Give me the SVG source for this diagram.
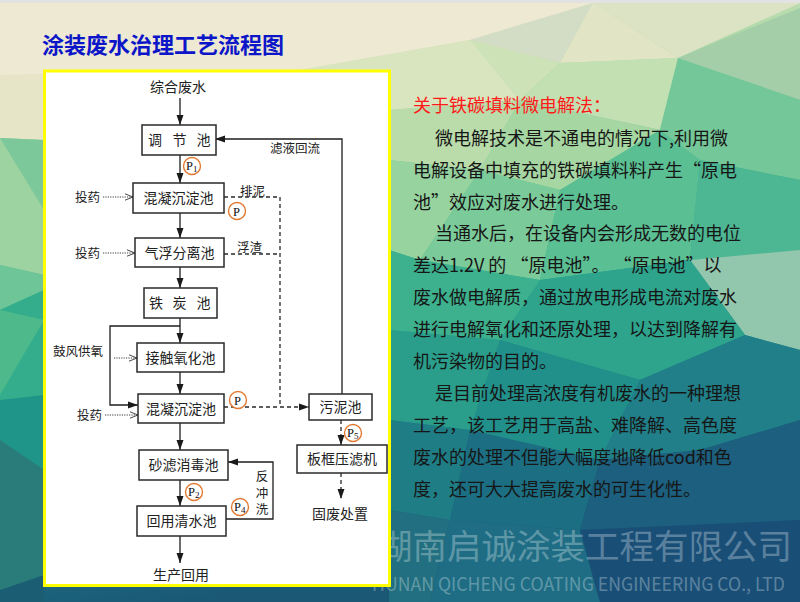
<svg xmlns="http://www.w3.org/2000/svg" width="800" height="602" viewBox="0 0 800 602">
<defs>
<linearGradient id="bg" x1="0" y1="0" x2="0.25" y2="1">
<stop offset="0" stop-color="#eee9d2"/>
<stop offset="0.16" stop-color="#e4e5c6"/>
<stop offset="0.28" stop-color="#a9d8a6"/>
<stop offset="0.45" stop-color="#52bb92"/>
<stop offset="0.62" stop-color="#28a08b"/>
<stop offset="0.78" stop-color="#1f7b86"/>
<stop offset="1" stop-color="#1a5876"/>
</linearGradient>
<marker id="ah" markerUnits="userSpaceOnUse" markerWidth="10" markerHeight="8" refX="10" refY="4" orient="auto">
<path d="M0,0.5 L10,4 L0,7.5 z" fill="#1a1a1a"/>
</marker>
<marker id="oh" markerUnits="userSpaceOnUse" markerWidth="9" markerHeight="8" refX="8.5" refY="4" orient="auto">
<path d="M0.5,0.8 L8.5,4 L0.5,7.2" fill="none" stroke="#333" stroke-width="0.9"/>
</marker>
</defs>
<style>
.box{fill:#fff;stroke:#2a2a2a;stroke-width:1.5}
.lbl{font-family:"Noto Sans CJK SC","Noto Sans",sans-serif;font-size:14px;fill:#222;text-anchor:middle}
.sm{font-family:"Noto Sans CJK SC","Noto Sans",sans-serif;font-size:12.5px;fill:#222}
.ln{fill:none;stroke:#1e1e1e;stroke-width:1.3}
.ds{fill:none;stroke:#2a2a2a;stroke-width:1.3;stroke-dasharray:4 3}
.dt{fill:none;stroke:#3a3a3a;stroke-width:1;stroke-dasharray:1.2 1.2}
.pc{fill:#fff;stroke:#e27a33;stroke-width:1.4}
.pt{font-family:"Liberation Serif",serif;font-size:12.5px;fill:#111}
.body{font-family:"Noto Sans CJK SC","Noto Sans",sans-serif;font-size:18px;fill:#161616}
.wm{font-family:"Noto Sans CJK SC","Noto Sans",sans-serif;fill:#ffffff;fill-opacity:0.3}
</style>
<g id="background">
<rect x="0" y="0" width="800" height="602" fill="url(#bg)"/>
<rect x="0" y="0" width="800" height="3" fill="#e2e2e2"/>
<polygon points="0,3 593,3 470,40 300,70 0,75" fill="#eee9d3"/>
<polygon points="470,40 593,3 560,63" fill="#d3dcc5"/>
<polygon points="593,3 678,58 560,63" fill="#e2e5c5"/>
<polygon points="593,3 800,3 678,58" fill="#dce2c4"/>
<polygon points="678,58 800,8 800,100" fill="#a4cea8"/>
<polygon points="300,70 470,40 520,100 389,110" fill="#d9e5bf"/>
<polygon points="470,40 560,63 520,100" fill="#cde2b7"/>
<polygon points="520,100 560,63 678,58 660,130" fill="#c2e0b2"/>
<polygon points="389,110 520,100 480,170 389,160" fill="#b9dcaa"/>
<polygon points="520,100 660,130 560,190 480,170" fill="#a6d6a2"/>
<polygon points="678,58 800,100 800,180 700,160 660,130" fill="#74c799"/>
<polygon points="389,160 480,170 420,260 389,250" fill="#97d39f"/>
<polygon points="480,170 560,190 540,280 420,260" fill="#7bcb9a"/>
<polygon points="560,190 660,130 700,160 690,260 540,280" fill="#5bbf94"/>
<polygon points="700,160 800,180 800,255 690,260" fill="#4db692"/>
<polygon points="690,260 800,250 800,350 745,335" fill="#92c6ad"/>
<polygon points="389,250 420,260 540,280 500,340 389,330" fill="#3db18e"/>
<polygon points="540,280 690,260 745,335 640,380 500,340" fill="#2ea48d"/>
<polygon points="389,330 500,340 470,430 389,420" fill="#2a9e8b"/>
<polygon points="500,340 640,380 600,460 470,430" fill="#22908a"/>
<polygon points="640,380 745,335 800,350 800,420 700,450 600,460" fill="#207f88"/>
<polygon points="389,420 470,430 450,520 389,510" fill="#1f7d86"/>
<polygon points="470,430 600,460 580,530 450,520" fill="#1c6f82"/>
<polygon points="600,460 700,450 800,420 800,520 580,530" fill="#1c5f7e"/>
<polygon points="389,510 450,520 430,602 389,602" fill="#216f80"/>
<polygon points="450,520 580,530 600,602 430,602" fill="#1e6d84"/>
<polygon points="580,530 800,520 800,602 600,602" fill="#194f77"/>
<polygon points="0,75 300,70 44,140 0,138" fill="#e6e5c7"/>
<polygon points="0,138 44,140 44,275 0,265" fill="#9cd3a0"/>
<polygon points="0,138 44,140 44,210" fill="#7dc89a"/>
<polygon points="0,265 44,275 44,290 0,310" fill="#6ec597"/>
<polygon points="0,310 44,290 44,400 0,400" fill="#33ad8c"/>
<polygon points="0,310 44,320 0,395" fill="#4eba8c"/>
<polygon points="0,400 44,395 44,470 0,440" fill="#1f958a"/>
<polygon points="0,440 44,470 44,580 0,590" fill="#2a7c7b"/>
<polygon points="0,590 44,575 44,602 0,602" fill="#1b5e74"/>
</g>
<g id="watermark">
<text class="wm" x="378" y="559" font-size="34.5">湖南启诚涂装工程有限公司</text>
<text class="wm" x="372" y="591" font-size="19" font-family="'Open Sans','Noto Sans',sans-serif" textLength="413" lengthAdjust="spacingAndGlyphs">HUNAN QICHENG COATING ENGINEERING CO., LTD</text>
</g>
<g id="title">
<text x="42" y="53" font-family="'Noto Sans CJK SC',sans-serif" font-size="22" font-weight="bold" fill="#0c16c8">涂装废水治理工艺流程图</text>
</g>
<g id="panel">
<rect x="44.5" y="71" width="345" height="514.5" fill="#ffffff" stroke="#ffff00" stroke-width="3"/>
</g>
<g id="connectors">
<line class="ln" x1="180" y1="98" x2="180" y2="125" marker-end="url(#ah)"/>
<line class="ln" x1="180" y1="155" x2="180" y2="183" marker-end="url(#ah)"/>
<line class="ln" x1="180" y1="213" x2="180" y2="238" marker-end="url(#ah)"/>
<line class="ln" x1="180" y1="267" x2="180" y2="288" marker-end="url(#ah)"/>
<line class="ln" x1="180" y1="318" x2="180" y2="343" marker-end="url(#ah)"/>
<line class="ln" x1="180" y1="372" x2="180" y2="394" marker-end="url(#ah)"/>
<line class="ln" x1="180" y1="423" x2="180" y2="450" marker-end="url(#ah)"/>
<line class="ln" x1="180" y1="480" x2="180" y2="506" marker-end="url(#ah)"/>
<line class="ln" x1="180" y1="536" x2="180" y2="563" marker-end="url(#ah)"/>
<polyline class="ln" points="180,326 110,326 110,405 138,405" marker-end="url(#ah)"/>
<polyline class="ln" points="342,394 342,139 215,139" marker-end="url(#ah)"/>
<polyline class="ln" points="226,519 273,519 273,462 228,462" marker-end="url(#ah)"/>
<polyline class="ds" points="224,197 280,197 280,407"/>
<line class="ds" x1="224" y1="254" x2="280" y2="254"/>
<line class="ds" x1="224" y1="407" x2="309" y2="407" marker-end="url(#ah)"/>
<line class="ds" x1="341" y1="420" x2="341" y2="445" marker-end="url(#ah)"/>
<line class="ds" x1="341" y1="473" x2="341" y2="499" marker-end="url(#ah)"/>
<line class="dt" x1="103" y1="197" x2="133" y2="197" marker-end="url(#oh)"/>
<line class="dt" x1="103" y1="253" x2="135" y2="253" marker-end="url(#oh)"/>
<line class="dt" x1="114" y1="358" x2="137" y2="358" marker-end="url(#oh)"/>
<line class="dt" x1="105" y1="415" x2="138" y2="415" marker-end="url(#oh)"/>
<text class="sm" x="75" y="201.5">投药</text>
<text class="sm" x="75" y="257.5">投药</text>
<text class="sm" x="53" y="356">鼓风供氧</text>
<text class="sm" x="77" y="420">投药</text>
<text class="sm" x="240" y="196">排泥</text>
<text class="sm" x="237" y="252">浮渣</text>
<text class="sm" x="270" y="153">滤液回流</text>
<text class="sm" x="262" y="470" style="writing-mode:vertical-rl;letter-spacing:4px">反冲洗</text>
</g>
<g id="markers-p">
<circle class="pc" cx="192" cy="166" r="8.5"/><text class="pt" x="186" y="170">P<tspan font-size="9" dy="2">1</tspan></text>
<circle class="pc" cx="237" cy="211" r="8.5"/><text class="pt" x="233" y="215.5">P</text>
<circle class="pc" cx="238" cy="400" r="8.5"/><text class="pt" x="234" y="404.5">P</text>
<circle class="pc" cx="353" cy="433" r="8.5"/><text class="pt" x="347" y="437">P<tspan font-size="9" dy="2">5</tspan></text>
<circle class="pc" cx="194" cy="492" r="8.5"/><text class="pt" x="188" y="496">P<tspan font-size="9" dy="2">2</tspan></text>
<circle class="pc" cx="240" cy="507" r="8.5"/><text class="pt" x="234" y="511">P<tspan font-size="9" dy="2">4</tspan></text>
</g>
<g id="n-source"><text class="lbl" x="178" y="92">综合废水</text></g>
<g id="n-tiaojie"><rect class="box" x="142" y="125" width="74" height="30"/><text class="lbl" style="text-anchor:start" x="148 172.5 196.5" y="145">调节池</text></g>
<g id="n-hunning1"><rect class="box" x="133" y="183" width="91" height="30"/><text class="lbl" x="178.5" y="203">混凝沉淀池</text></g>
<g id="n-qifu"><rect class="box" x="135" y="238" width="89" height="29"/><text class="lbl" x="179.5" y="257.5">气浮分离池</text></g>
<g id="n-tietan"><rect class="box" x="144" y="288" width="73" height="30"/><text class="lbl" style="text-anchor:start" x="149 172.5 196.5" y="308">铁炭池</text></g>
<g id="n-jiechu"><rect class="box" x="137" y="343" width="87" height="29"/><text class="lbl" x="180.5" y="362.5">接触氧化池</text></g>
<g id="n-hunning2"><rect class="box" x="138" y="394" width="86" height="29"/><text class="lbl" x="181" y="413.5">混凝沉淀池</text></g>
<g id="n-shalv"><rect class="box" x="139" y="450" width="89" height="30"/><text class="lbl" x="183.5" y="470">砂滤消毒池</text></g>
<g id="n-huiyong"><rect class="box" x="137" y="506" width="89" height="30"/><text class="lbl" x="181.5" y="526">回用清水池</text></g>
<g id="n-output"><text class="lbl" x="181" y="580">生产回用</text></g>
<g id="n-wuni"><rect class="box" x="309" y="394" width="63" height="26"/><text class="lbl" x="340.5" y="412">污泥池</text></g>
<g id="n-bankuang"><rect class="box" x="297" y="445" width="90" height="28"/><text class="lbl" x="342" y="464">板框压滤机</text></g>
<g id="n-waste"><text class="lbl" x="340" y="519">固废处置</text></g>
<g id="description">
<text class="body" x="413" y="112" style="fill:#ff1a1a">关于铁碳填料微电解法：</text>
<text class="body" x="435" y="145">微电解技术是不通电的情况下,利用微</text>
<text class="body" x="413" y="177">电解设备中填充的铁碳填料料产生“原电</text>
<text class="body" x="413" y="209">池”效应对废水进行处理。</text>
<text class="body" x="435" y="240">当通水后，在设备内会形成无数的电位</text>
<text class="body" x="413" y="272">差达1.2V 的 “原电池”。 “原电池”以</text>
<text class="body" x="413" y="304">废水做电解质，通过放电形成电流对废水</text>
<text class="body" x="413" y="336">进行电解氧化和还原处理，以达到降解有</text>
<text class="body" x="413" y="368">机污染物的目的。</text>
<text class="body" x="435" y="400">是目前处理高浓度有机废水的一种理想</text>
<text class="body" x="413" y="432">工艺，该工艺用于高盐、难降解、高色度</text>
<text class="body" x="413" y="464">废水的处理不但能大幅度地降低cod和色</text>
<text class="body" x="413" y="496">度，还可大大提高废水的可生化性。</text>
</g>
</svg>
